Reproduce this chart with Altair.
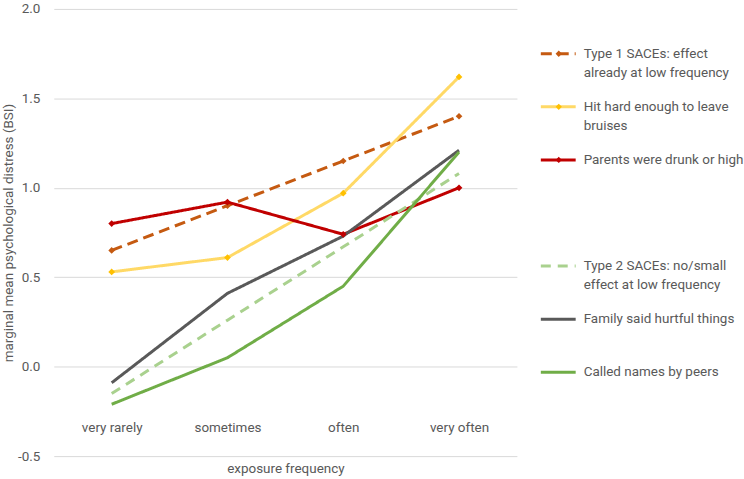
import altair as alt
import pandas as pd

# Exposure-frequency categories on the x axis
categories = ["very rarely", "sometimes", "often", "very often"]

# Series keys, in drawing / legend order
series_keys = ["type1", "bruises", "drunk", "type2", "hurtful", "names"]

# Marginal mean psychological distress (BSI) per exposure frequency
type1_values = [0.65, 0.90, 1.15, 1.40]
bruises_values = [0.53, 0.61, 0.97, 1.62]
drunk_values = [0.80, 0.92, 0.74, 1.00]
type2_values = [-0.15, 0.26, 0.67, 1.08]
hurtful_values = [-0.09, 0.41, 0.73, 1.21]
names_values = [-0.21, 0.05, 0.45, 1.20]

# Legend text (first and second line) for each series
legend_line1 = [
    "Type 1 SACEs: effect",
    "Hit hard enough to leave",
    "Parents were drunk or high",
    "Type 2 SACEs: no/small",
    "Family said hurtful things",
    "Called names by peers",
]
legend_line2 = [
    "already at low frequency",
    "bruises",
    "",
    "effect at low frequency",
    "",
    "",
]
# Legend slot of each series (slot 3 is left empty as a separator)
legend_slot = [0, 1, 2, 4, 5, 6]

# Styling
line_colors = ["#C55A11", "#FFD966", "#C00000", "#A9D18E", "#595959", "#70AD47"]
line_dashes = [[11, 6], [1, 0], [1, 0], [10, 7], [1, 0], [1, 0]]
legend_dashes = [[10, 5], [1, 0], [1, 0], [13, 8], [1, 0], [1, 0]]
marker_keys = ["type1", "bruises", "drunk"]
marker_colors = ["#C55A11", "#FFC000", "#C00000"]

FONT = "Roboto, sans-serif"
FONT_SIZE = 13.5
TEXT_COLOR = "#595959"

values_by_series = [type1_values, bruises_values, drunk_values,
                    type2_values, hurtful_values, names_values]
rows = []
for key, vals in zip(series_keys, values_by_series):
    for cat, v in zip(categories, vals):
        rows.append({"series": key, "frequency": cat, "value": v})
df = pd.DataFrame(rows)

legend_df = pd.DataFrame({
    "series": series_keys,
    "slot": legend_slot,
    "line1": legend_line1,
    "line2": legend_line2,
})

x_enc = alt.X(
    "frequency:N",
    sort=categories,
    scale=alt.Scale(type="point", padding=0.5),
    axis=alt.Axis(
        title="exposure frequency",
        orient="bottom",
        offset=-36,
        domain=False,
        ticks=False,
        labelAngle=0,
        labelPadding=0,
        labelFontSize=FONT_SIZE,
        labelColor=TEXT_COLOR,
        labelFont=FONT,
        titleFont=FONT,
        titleFontSize=FONT_SIZE,
        titleFontWeight="normal",
        titleColor=TEXT_COLOR,
        titlePadding=28,
    ),
)
y_enc = alt.Y(
    "value:Q",
    scale=alt.Scale(domain=[-0.5, 2.0], nice=False, zero=False),
    axis=alt.Axis(
        title="marginal mean psychological distress (BSI)",
        values=[-0.5, 0.0, 0.5, 1.0, 1.5, 2.0],
        labelExpr="replace(format(datum.value, '.1f'), '\u2212', '-')",
        domain=False,
        ticks=False,
        grid=True,
        gridColor="#D9D9D9",
        gridWidth=1,
        labelPadding=14,
        labelFontSize=FONT_SIZE,
        labelColor=TEXT_COLOR,
        labelFont=FONT,
        titleFont=FONT,
        titleFontSize=FONT_SIZE,
        titleFontWeight="normal",
        titleColor=TEXT_COLOR,
        titlePadding=2,
    ),
)

lines = alt.Chart(df).mark_line(strokeWidth=3).encode(
    x=x_enc,
    y=y_enc,
    color=alt.Color("series:N", scale=alt.Scale(domain=series_keys, range=line_colors), legend=None),
    strokeDash=alt.StrokeDash("series:N", scale=alt.Scale(domain=series_keys, range=line_dashes), legend=None),
)

markers = alt.Chart(df).transform_filter(
    alt.FieldOneOfPredicate(field="series", oneOf=marker_keys)
).mark_point(shape="diamond", filled=True, size=45, opacity=1).encode(
    x=alt.X("frequency:N", sort=categories),
    y="value:Q",
    fill=alt.Fill("series:N", scale=alt.Scale(domain=marker_keys, range=marker_colors), legend=None),
)

main = alt.layer(lines, markers).properties(width=465, height=449)

# Custom legend drawn as its own panel
legend_y = alt.Scale(domain=[-0.844, 7.58], reverse=True, nice=False, zero=False)
legend_base = alt.Chart(legend_df)

swatches = legend_base.mark_rule(strokeWidth=3).encode(
    x=alt.value(4),
    x2=alt.value(39),
    y=alt.Y("slot:Q", scale=legend_y, axis=None),
    color=alt.Color("series:N", scale=alt.Scale(domain=series_keys, range=line_colors), legend=None),
    strokeDash=alt.StrokeDash("series:N", scale=alt.Scale(domain=series_keys, range=legend_dashes), legend=None),
)
swatch_marks = legend_base.transform_filter(
    alt.FieldOneOfPredicate(field="series", oneOf=marker_keys)
).mark_point(shape="diamond", filled=True, size=40, opacity=1).encode(
    x=alt.value(22),
    y=alt.Y("slot:Q", scale=legend_y, axis=None),
    fill=alt.Fill("series:N", scale=alt.Scale(domain=marker_keys, range=marker_colors), legend=None),
)
text1 = legend_base.mark_text(
    align="left", baseline="middle", fontSize=FONT_SIZE, font=FONT, color=TEXT_COLOR
).encode(
    x=alt.value(47),
    y=alt.Y("slot:Q", scale=legend_y, axis=None),
    text="line1:N",
)
text2 = legend_base.mark_text(
    align="left", baseline="middle", fontSize=FONT_SIZE, font=FONT, color=TEXT_COLOR, dy=19
).encode(
    x=alt.value(47),
    y=alt.Y("slot:Q", scale=legend_y, axis=None),
    text="line2:N",
)

legend = alt.layer(swatches, swatch_marks, text1, text2).properties(width=204, height=449)

chart = alt.hconcat(main, legend, spacing=20).properties(
    padding={"left": 1, "top": 1, "right": 0, "bottom": 0},
    background="white",
).configure_view(stroke=None)

chart.save("out.html", embed_options={"renderer": "svg", "actions": False})
